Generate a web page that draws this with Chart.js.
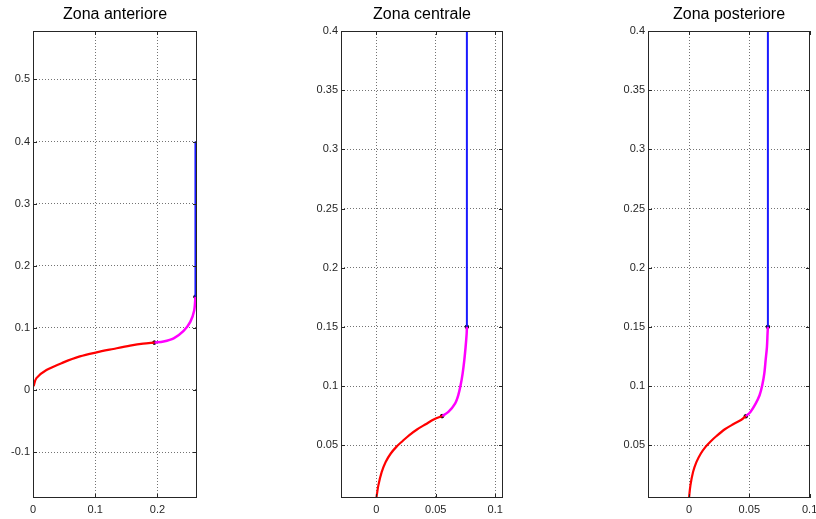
<!DOCTYPE html>
<html lang="it">
<head>
  <meta charset="UTF-8">
  <title>Zone</title>
  <script src="https://cdn.jsdelivr.net/npm/chart.js"></script>
  <style>
    body { margin: 0; background: #fff; }
    #wrap { position: relative; width: 816px; height: 519px; overflow: hidden; }
    canvas { position: absolute; top: 0; }
  </style>
</head>
<body>
  <div id="wrap">
    <canvas id="chartA" width="272" height="519" style="left:0px"></canvas>
    <canvas id="chartC" width="272" height="519" style="left:272px"></canvas>
    <canvas id="chartP" width="272" height="519" style="left:544px"></canvas>
  </div>

  <script>
    // --- data ---
    const titles = ['Zona anteriore', 'Zona centrale', 'Zona posteriore'];

    // Zona anteriore
    const antRedX = [0.001, 0.0055, 0.0216, 0.048, 0.0753, 0.102, 0.129, 0.156, 0.177, 0.195];
    const antRedY = [0.006, 0.019, 0.032, 0.044, 0.054, 0.0605, 0.066, 0.0713, 0.0746, 0.0762];
    const antMagX = [0.195, 0.2097, 0.226, 0.242, 0.2527, 0.259, 0.261];
    const antMagY = [0.0762, 0.078, 0.083, 0.095, 0.1096, 0.128, 0.15];
    const antBlueX = [0.261, 0.261];
    const antBlueY = [0.15, 0.4];
    const antXTicks = [0, 0.1, 0.2];
    const antYTicks = [-0.1, 0, 0.1, 0.2, 0.3, 0.4, 0.5];

    // Zona centrale
    const cenRedX = [0, 0.0017, 0.0045, 0.0078, 0.0121, 0.0168, 0.0219, 0.0275, 0.0345, 0.0415, 0.0486, 0.0553];
    const cenRedY = [0.0054, 0.0163, 0.0275, 0.0359, 0.043, 0.0486, 0.0534, 0.0584, 0.0635, 0.0677, 0.0719, 0.0746];
    const cenMagX = [0.0553, 0.0606, 0.0662, 0.0689, 0.0709, 0.0726, 0.074, 0.0751, 0.076, 0.0762];
    const cenMagY = [0.0746, 0.0781, 0.0852, 0.0922, 0.1006, 0.1105, 0.1217, 0.1329, 0.1442, 0.15];
    const cenBlueX = [0.0762, 0.0762];
    const cenBlueY = [0.15, 0.4];

    // Zona posteriore
    const posRedX = [0, 0.0012, 0.0034, 0.0062, 0.0098, 0.0137, 0.0181, 0.0228, 0.0297, 0.0366, 0.0431, 0.0471];
    const posRedY = [0.0054, 0.0163, 0.0275, 0.0359, 0.043, 0.0486, 0.0534, 0.0578, 0.0635, 0.0677, 0.0713, 0.0745];
    const posMagX = [0.0471, 0.0509, 0.055, 0.0585, 0.0607, 0.0624, 0.0635, 0.0646, 0.0651, 0.0654];
    const posMagY = [0.0745, 0.0781, 0.0847, 0.0922, 0.1006, 0.1105, 0.1217, 0.1329, 0.1442, 0.15];
    const posBlueX = [0.0654, 0.0654];
    const posBlueY = [0.15, 0.4];

    const zoomXTicks = [0, 0.05, 0.1];
    const zoomYTicks = [0.05, 0.1, 0.15, 0.2, 0.25, 0.3, 0.35, 0.4];

    const pts = (xs, ys) => xs.map((x, i) => ({ x: x, y: ys[i] }));

    // box, inward tick marks and title (MATLAB style)
    const frame = {
      id: 'frame',
      afterDatasetsDraw(chart) {
        const { ctx, chartArea: a, scales } = chart;
        ctx.save();
        ctx.strokeStyle = '#262626';
        ctx.lineWidth = 1;
        ctx.strokeRect(Math.round(a.left) + 0.5, Math.round(a.top) + 0.5,
                       Math.round(a.width) - 1, Math.round(a.height) - 1);
        ctx.beginPath();
        scales.x.ticks.forEach(t => {
          const px = Math.round(scales.x.getPixelForValue(t.value)) + 0.5;
          ctx.moveTo(px, a.bottom); ctx.lineTo(px, a.bottom - 4);
          ctx.moveTo(px, a.top); ctx.lineTo(px, a.top + 4);
        });
        scales.y.ticks.forEach(t => {
          const py = Math.round(scales.y.getPixelForValue(t.value)) + 0.5;
          ctx.moveTo(a.left, py); ctx.lineTo(a.left + 4, py);
          ctx.moveTo(a.right, py); ctx.lineTo(a.right - 4, py);
        });
        ctx.stroke();
        ctx.fillStyle = '#000';
        ctx.font = '16px "Liberation Sans", Arial, sans-serif';
        ctx.textAlign = 'center';
        ctx.textBaseline = 'middle';
        ctx.fillText(chart.options.plugins.frame.title, (a.left + a.right) / 2, 15);
        ctx.restore();
      }
    };

    function makeChart(id, title, red, mag, blue, dots, xr, yr, xTicks, yTicks, yWidth, padLeft, padRight) {
      const tickFont = { family: '"Liberation Sans", Arial, sans-serif', size: 11 };
      const grid = { color: 'rgba(0,0,0,0.55)', lineWidth: 1, drawTicks: false };
      const border = { display: false, dash: [1, 2] };
      return new Chart(document.getElementById(id), {
        type: 'scatter',
        data: {
          datasets: [
            { data: red, borderColor: '#ff0000', borderWidth: 2.2, showLine: true, pointRadius: 0, tension: 0.3 },
            { data: mag, borderColor: '#ff00ff', borderWidth: 2.5, showLine: true, pointRadius: 0, tension: 0.3 },
            { data: blue, borderColor: '#1a1aff', borderWidth: 2, showLine: true, pointRadius: 0 },
            { data: dots, backgroundColor: '#000', borderColor: '#000', pointRadius: 1.8, showLine: false }
          ]
        },
        options: {
          responsive: false,
          animation: false,
          layout: { padding: { left: padLeft, right: padRight, top: 31, bottom: 0 } },
          plugins: {
            legend: { display: false },
            tooltip: { enabled: false },
            frame: { title: title }
          },
          scales: {
            x: {
              type: 'linear',
              min: xr[0], max: xr[1],
              border: border,
              grid: grid,
              ticks: { font: tickFont, color: '#262626', padding: 5, maxRotation: 0,
                       callback: v => String(v) },
              afterBuildTicks: s => { s.ticks = xTicks.map(v => ({ value: v })); },
              afterFit: s => { s.height = 21; s.paddingLeft = 0; s.paddingRight = 0; }
            },
            y: {
              type: 'linear',
              min: yr[0], max: yr[1],
              border: border,
              grid: grid,
              ticks: { font: tickFont, color: '#262626', padding: 3,
                       callback: v => String(v) },
              afterBuildTicks: s => { s.ticks = yTicks.map(v => ({ value: v })); },
              afterFit: s => { s.width = yWidth; s.paddingTop = 0; s.paddingBottom = 0; }
            }
          }
        },
        plugins: [frame]
      });
    }

    makeChart('chartA', titles[0],
      pts(antRedX, antRedY), pts(antMagX, antMagY), pts(antBlueX, antBlueY),
      pts([antMagX[0], antBlueX[0]], [antMagY[0], antBlueY[0]]),
      [0, 0.2635], [-0.174, 0.578], antXTicks, antYTicks, 33, 0, 75);

    makeChart('chartC', titles[1],
      pts(cenRedX, cenRedY), pts(cenMagX, cenMagY), pts(cenBlueX, cenBlueY),
      pts([cenMagX[0], cenBlueX[0]], [cenMagY[0], cenBlueY[0]]),
      [-0.0298, 0.1066], [0.0054, 0.4], zoomXTicks, zoomYTicks, 40, 29, 41);

    makeChart('chartP', titles[2],
      pts(posRedX, posRedY), pts(posMagX, posMagY), pts(posBlueX, posBlueY),
      pts([posMagX[0], posBlueX[0]], [posMagY[0], posBlueY[0]]),
      [-0.034, 0.1003], [0.0054, 0.4], zoomXTicks, zoomYTicks, 40, 64, 6);
  </script>
</body>
</html>
